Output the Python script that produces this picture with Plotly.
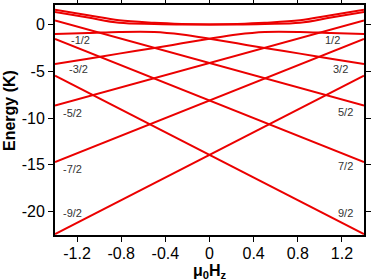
import plotly.graph_objects as go

# Field values (T) and energy levels (K)
B_edges = [-1.4, 1.4]
lvl_m92 = [-22.4, -5.45]
lvl_p92 = [-5.45, -22.4]
lvl_m72 = [-14.7, -1.53]
lvl_p72 = [-1.53, -14.7]
lvl_m52 = [-8.65, 0.45]
lvl_p52 = [0.45, -8.65]

B_curve = [-1.4, -1.1, -0.82, -0.5, -0.25, 0.0, 0.25, 0.5, 0.82, 1.1, 1.4]
lvl_u1 = [1.58, 1.0, 0.46, 0.2, 0.08, 0.02, 0.02, 0.08, 0.2, 0.76, 1.36]
lvl_u2 = [1.36, 0.76, 0.2, 0.08, 0.02, 0.02, 0.08, 0.2, 0.46, 1.0, 1.58]
lvl_l1 = [-1.0, -0.9, -0.78, -0.78, -1.05, -1.5, -2.0, -2.5, -3.1, -3.65, -4.2]
lvl_l2 = [-4.2, -3.65, -3.1, -2.5, -2.0, -1.5, -1.05, -0.78, -0.78, -0.9, -1.0]

left_labels = ["-1/2", "-3/2", "-5/2", "-7/2", "-9/2"]
left_label_x = [-1.17, -1.19, -1.24, -1.24, -1.24]
left_label_y = [-1.6, -4.75, -9.4, -15.4, -20.1]
right_labels = ["1/2", "3/2", "5/2", "7/2", "9/2"]
right_label_x = [1.11, 1.19, 1.23, 1.23, 1.23]
right_label_y = [-1.6, -4.75, -9.3, -15.1, -20.1]

x_ticks = [-1.2, -0.8, -0.4, 0, 0.4, 0.8, 1.2]
y_ticks = [0, -5, -10, -15, -20]

RED = "rgb(235,0,0)"
FONT = "Liberation Sans"
fig = go.Figure()
for ys in [lvl_m92, lvl_p92, lvl_m72, lvl_p72, lvl_m52, lvl_p52]:
    fig.add_trace(go.Scatter(x=B_edges, y=ys, mode="lines",
                             line=dict(color=RED, width=2), showlegend=False))
for ys in [lvl_u1, lvl_u2, lvl_l1, lvl_l2]:
    fig.add_trace(go.Scatter(x=B_curve, y=ys, mode="lines", line_shape="spline",
                             line=dict(color=RED, width=2), showlegend=False))

for t, x, y in zip(left_labels, left_label_x, left_label_y):
    fig.add_annotation(x=x, y=y, text=t, showarrow=False, xanchor="center",
                       font=dict(family=FONT, size=11, color="#333"))
for t, x, y in zip(right_labels, right_label_x, right_label_y):
    fig.add_annotation(x=x, y=y, text=t, showarrow=False, xanchor="center",
                       font=dict(family=FONT, size=11, color="#333"))

# axis titles
fig.add_annotation(x=0.5, xref="paper", y=-0.16, yref="paper",
                   text="<b>μ<sub>0</sub>H<sub>z</sub></b>", showarrow=False,
                   xanchor="center", yanchor="middle",
                   font=dict(family=FONT, size=16, color="black"))
fig.add_annotation(x=-0.145, xref="paper", y=0.54, yref="paper",
                   text="<b>Energy (K)</b>", showarrow=False, textangle=-90,
                   xanchor="center", yanchor="middle",
                   font=dict(family=FONT, size=16, color="black"))

axis_common = dict(showline=True, linecolor="black", linewidth=2, mirror="ticks",
                   ticks="outside", ticklen=5, tickwidth=1, tickcolor="black",
                   showgrid=False, zeroline=False, automargin=False,
                   tickfont=dict(family=FONT, size=16, color="black"))
fig.update_xaxes(range=[-1.4, 1.4], tickvals=x_ticks,
                 ticktext=[str(v) for v in x_ticks], ticklabelstandoff=-2,
                 **axis_common)
fig.update_yaxes(range=[-22.5, 2.1], tickvals=y_ticks,
                 ticktext=[str(v) for v in y_ticks],
                 **axis_common)
fig.update_layout(width=374, height=280, margin=dict(l=55, r=10, t=5, b=45),
                  plot_bgcolor="white", paper_bgcolor="white")
fig.write_html("out.html", config={"displayModeBar": False},
               post_script="document.body.style.margin='0px';document.body.style.overflow='hidden';")
